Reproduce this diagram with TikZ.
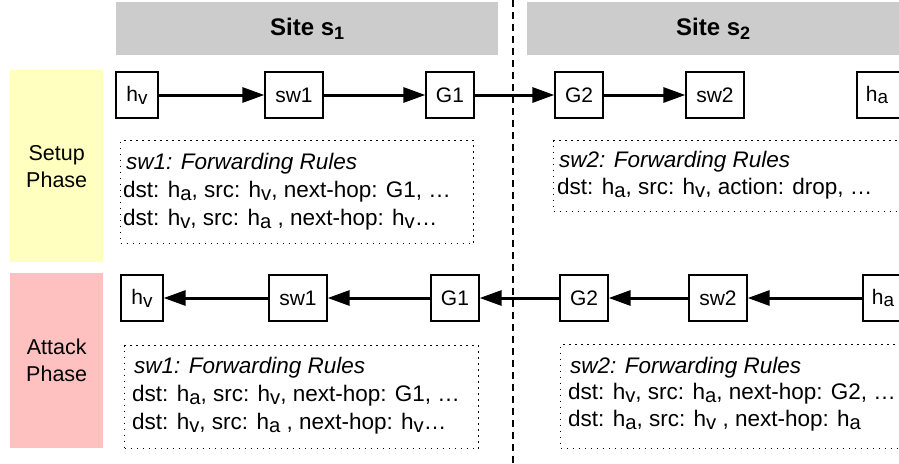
\documentclass[tikz,border=0pt]{standalone}
\usepackage{fontspec}
\setmainfont{Liberation Sans}
\usetikzlibrary{arrows.meta}
\definecolor{sitegray}{HTML}{CCCCCC}
\definecolor{setupyellow}{HTML}{FFFFC0}
\definecolor{attackpink}{HTML}{FFC0C0}
% index letter: nearly full size, set a little below the baseline
\newcommand\subtxt[1]{\raisebox{-0.14em}{\scalebox{0.9}{#1}}}
% site index in the header bars
\newcommand\siteidx[1]{\raisebox{-0.18em}{\scalebox{0.75}{#1}}}
\begin{document}
\begin{tikzpicture}[x=1pt,y=-1pt,
  netnode/.style={draw,line width=1.3pt,minimum height=46pt,inner sep=0pt,font=\fontsize{21}{25}\selectfont},
  hostbox/.style={netnode,minimum width=42pt},
  swbox/.style={netnode,minimum width=58pt},
  gwbox/.style={netnode,minimum width=48pt},
  flow/.style={line width=3pt,-{Triangle[length=22pt,width=15pt]}},
  rulebox/.style={draw,line width=1.4pt,dash pattern=on 1.5pt off 4.5pt,anchor=north west,inner sep=0pt},
  ruleline/.style={anchor=base west,inner sep=0pt,font=\fontsize{22.5}{27}\selectfont},
  sitebar/.style={fill=sitegray,anchor=north west,inner sep=0pt,minimum height=53pt,font=\bfseries\fontsize{24}{28}\selectfont},
  phase/.style={anchor=north west,inner sep=0pt,minimum width=93pt,align=center,font=\fontsize{21.5}{27}\selectfont},
  divider/.style={line width=1.6pt,dash pattern=on 7pt off 5pt}
]
\useasboundingbox (0,0) rectangle (899,463);
\clip (0,0) rectangle (899,463);

% site headers
\node[sitebar,minimum width=382pt] (site1) at (116,2) {Site s\siteidx{1}};
\node[sitebar,minimum width=372pt] (site2) at (527,2) {Site s\siteidx{2}};

% phase labels
\node[phase,fill=setupyellow,minimum height=192pt] (setup) at (10,70) {Setup\\Phase};
\node[phase,fill=attackpink,minimum height=175pt] (attack) at (10,273) {Attack\\Phase};

% boundary between the two sites
\coordinate (divtop) at (513,0);
\coordinate (divbot) at (513,463);
\draw[divider] (divtop) -- (divbot);

% setup phase path
\node[hostbox] (hv1) at (137,95) {h\subtxt{v}};
\node[swbox] (swa1) at (294,95) {sw1};
\node[gwbox] (ga1) at (450,95) {G1};
\node[gwbox] (gb1) at (579,95) {G2};
\node[swbox] (swb1) at (715,95) {sw2};
\node[gwbox] (ha1) at (881,95) {\hspace{-8pt}h\subtxt{a}};
\draw[flow] (hv1) -- (swa1);
\draw[flow] (swa1) -- (ga1);
\draw[flow] (ga1) -- (gb1);
\draw[flow] (gb1) -- (swb1);

% attack phase path
\node[hostbox] (hv2) at (142,298) {h\subtxt{v}};
\node[swbox] (swa2) at (298,298) {sw1};
\node[gwbox] (ga2) at (455,298) {G1};
\node[gwbox] (gb2) at (584,298) {G2};
\node[swbox] (swb2) at (718,298) {sw2};
\node[gwbox] (ha2) at (887,298) {\hspace{-8pt}h\subtxt{a}};
\draw[flow] (ha2) -- (swb2);
\draw[flow] (swb2) -- (gb2);
\draw[flow] (gb2) -- (ga2);
\draw[flow] (ga2) -- (swa2);
\draw[flow] (swa2) -- (hv2);

% forwarding tables
\node[rulebox,minimum width=353pt,minimum height=103pt] (rt1) at (120,140) {};
\node[ruleline] (rt1a) at (126,169) {\textit{sw1: Forwarding Rules}};
\node[ruleline] (rt1b) at (123,197) {dst: h\subtxt{a}, src: h\subtxt{v}, next-hop: G1, …};
\node[ruleline] (rt1c) at (123,225) {dst: h\subtxt{v}, src: h\subtxt{a} , next-hop: h\subtxt{v}…};

\node[rulebox,minimum width=400pt,minimum height=71pt] (rt2) at (553,140) {};
\node[ruleline] (rt2a) at (559,167) {\textit{sw2: Forwarding Rules}};
\node[ruleline] (rt2b) at (557,194) {dst: h\subtxt{a}, src: h\subtxt{v}, action: drop, …};

\node[rulebox,minimum width=354pt,minimum height=103pt] (rt3) at (124,345) {};
\node[ruleline] (rt3a) at (134,373) {\textit{sw1: Forwarding Rules}};
\node[ruleline] (rt3b) at (132,401) {dst: h\subtxt{a}, src: h\subtxt{v}, next-hop: G1, …};
\node[ruleline] (rt3c) at (132,429) {dst: h\subtxt{v}, src: h\subtxt{a} , next-hop: h\subtxt{v}…};

\node[rulebox,minimum width=400pt,minimum height=104pt] (rt4) at (560,344) {};
\node[ruleline] (rt4a) at (570,373) {\textit{sw2: Forwarding Rules}};
\node[ruleline] (rt4b) at (568,399) {dst: h\subtxt{v}, src: h\subtxt{a}, next-hop: G2, …};
\node[ruleline] (rt4c) at (568,426) {dst: h\subtxt{a}, src: h\subtxt{v} , next-hop: h\subtxt{a}};
\end{tikzpicture}
\end{document}
